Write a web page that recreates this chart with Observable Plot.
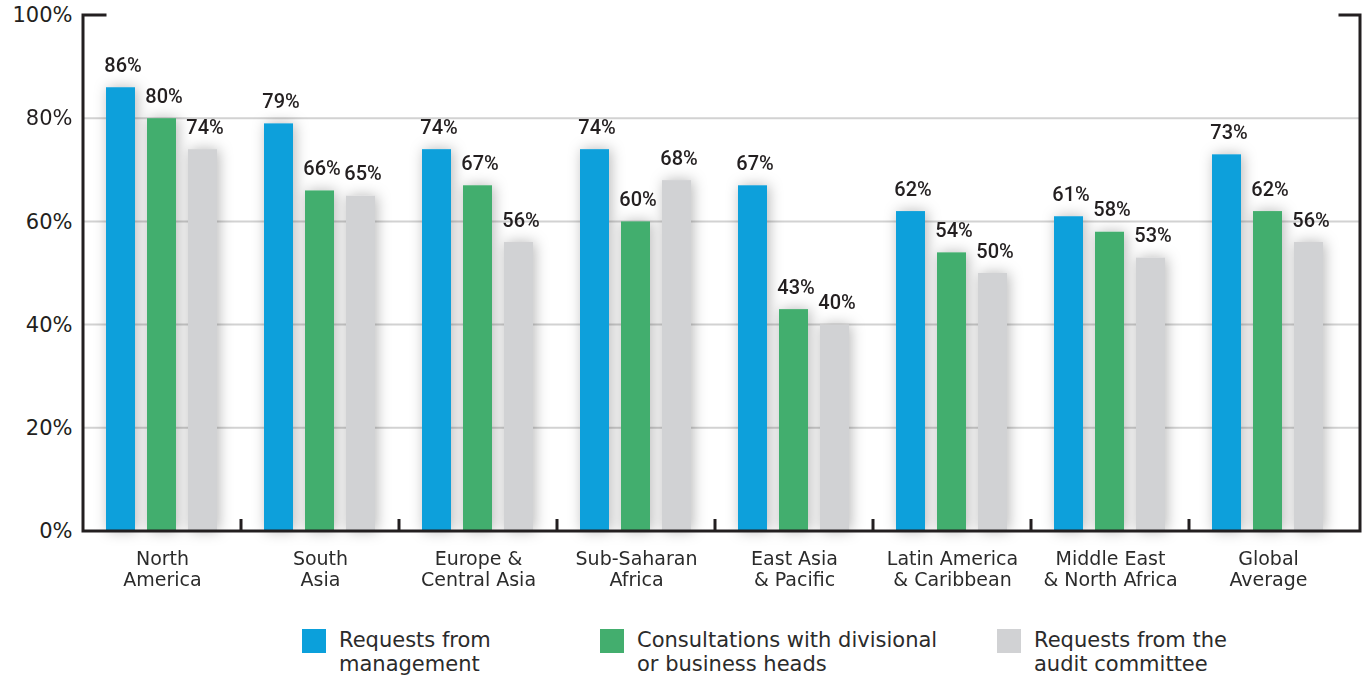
<!DOCTYPE html>
<html>
<head>
<meta charset="utf-8">
<script src="https://cdn.jsdelivr.net/npm/d3@7"></script>
<script src="https://cdn.jsdelivr.net/npm/@observablehq/plot@0.6"></script>
<style>
  html, body { margin: 0; padding: 0; background: #fff; }
  #wrap { position: relative; width: 1364px; height: 677px; font-family: "DejaVu Sans", sans-serif; color: #231f20; }
  #legend { position: absolute; left: 0; top: 600px; width: 1364px; height: 77px; }
  .item { position: absolute; top: 0; }
  .sw { position: absolute; top: 29px; left: 0; width: 24px; height: 24px; }
  .lab { position: absolute; top: 28px; left: 37px; font-size: 21px; line-height: 24px; white-space: nowrap; color: #2b2b2b; }
</style>
</head>
<body>
<div id="wrap"><div id="chart"></div><div id="legend"></div></div>
<script>
const regions = ["North America", "South Asia", "Europe & Central Asia", "Sub-Saharan Africa", "East Asia & Pacific", "Latin America & Caribbean", "Middle East & North Africa", "Global Average"];
const regionLabels = ["North\nAmerica", "South\nAsia", "Europe &\nCentral Asia", "Sub-Saharan\nAfrica", "East Asia\n& Pacific", "Latin America\n& Caribbean", "Middle East\n& North Africa", "Global\nAverage"];
const series = ["Requests from management", "Consultations with divisional or business heads", "Requests from the audit committee"];
const seriesLabels = ["Requests from<br>management", "Consultations with divisional<br>or business heads", "Requests from the<br>audit committee"];
const colors = ["#0ba0db", "#43ae6e", "#d1d2d4"];
const management = [86, 79, 74, 74, 67, 62, 61, 73];
const consultations = [80, 66, 67, 60, 43, 54, 58, 62];
const auditCommittee = [74, 65, 56, 68, 40, 50, 53, 56];
const yTicks = [0, 20, 40, 60, 80, 100];

const valuesBySeries = [management, consultations, auditCommittee];
const data = [];
regions.forEach((r, i) => {
  series.forEach((s, j) => data.push({region: r, series: s, value: valuesBySeries[j][i]}));
});
const labelOf = new Map(regions.map((r, i) => [r, regionLabels[i]]));

const W = 1364, H = 600, frameRight = 1360;
const plot = Plot.plot({
  width: W, height: H,
  marginLeft: 83, marginRight: 17, marginTop: 15, marginBottom: 69,
  style: {fontFamily: "DejaVu Sans, sans-serif", color: "#231f20", background: "transparent"},
  fx: {domain: regions, paddingInner: 0, paddingOuter: 0},
  x: {domain: series, paddingInner: 0.2857, paddingOuter: 0.524, axis: null},
  y: {domain: [0, 100], axis: null},
  color: {domain: series, range: colors},
  marks: [
    Plot.barY(data, {fx: "region", x: "series", y: "value", fill: "series"}),
    Plot.text(data, {fx: "region", x: "series", y: "value", text: d => d.value + "%", dy: -16, dx: 2, lineAnchor: "bottom", fontSize: 20, fontWeight: 500, fontFamily: "Roboto, sans-serif", fill: "#231f20"}),
    Plot.axisY({ticks: yTicks, tickFormat: d => d + "%", tickSize: 0, tickPadding: 11, fontSize: 21, label: null, fill: "#231f20"}),
    Plot.axisFx({anchor: "bottom", tickFormat: r => labelOf.get(r), tickSize: 0, tickPadding: 19, fontSize: 19, lineHeight: 1.1, label: null, fill: "#2b2b2b"})
  ]
});
document.getElementById("chart").appendChild(plot);

// decoration: shadows, grid, frame, group separators
const svg = d3.select(plot);
const y = plot.scale("y"), fx = plot.scale("fx");
const y0 = y.apply(0), yTop = y.apply(100);
const xLeft = fx.apply(regions[0]);

const defs = svg.insert("defs", ":first-child");
const f = defs.append("filter").attr("id", "barShadow").attr("filterUnits", "userSpaceOnUse")
  .attr("x", -300).attr("y", -300).attr("width", 2400).attr("height", 1400);
f.append("feDropShadow").attr("dx", 2).attr("dy", 0).attr("stdDeviation", 7)
  .attr("flood-color", "#000").attr("flood-opacity", 0.28);
svg.selectAll('g[aria-label="bar"]').attr("filter", "url(#barShadow)");

const grid = svg.insert("g", "defs + *");
yTicks.filter(v => v > 0 && v < 100).forEach(v => {
  grid.append("line").attr("x1", xLeft).attr("x2", frameRight).attr("y1", y.apply(v)).attr("y2", y.apply(v))
    .attr("stroke", "#d2d2d2").attr("stroke-width", 2);
});

const deco = svg.append("g").attr("fill", "none").attr("stroke", "#231f20").attr("stroke-width", 3);
deco.append("path").attr("d", `M${xLeft + 22},${yTop} H${xLeft} V${y0} H${frameRight} V${yTop} H${frameRight - 20}`)
  .attr("stroke-linecap", "square").attr("stroke-linejoin", "miter");
regions.slice(1).forEach(r => {
  const x = fx.apply(r);
  deco.append("line").attr("x1", x).attr("x2", x).attr("y1", y0).attr("y2", y0 - 12);
});

// legend
const legend = d3.select("#legend");
const legendLeft = [302, 600, 997];
series.forEach((s, i) => {
  const it = legend.append("div").attr("class", "item").style("left", legendLeft[i] + "px");
  it.append("div").attr("class", "sw").style("background", colors[i]);
  it.append("div").attr("class", "lab").html(seriesLabels[i]);
});
</script>
</body>
</html>
